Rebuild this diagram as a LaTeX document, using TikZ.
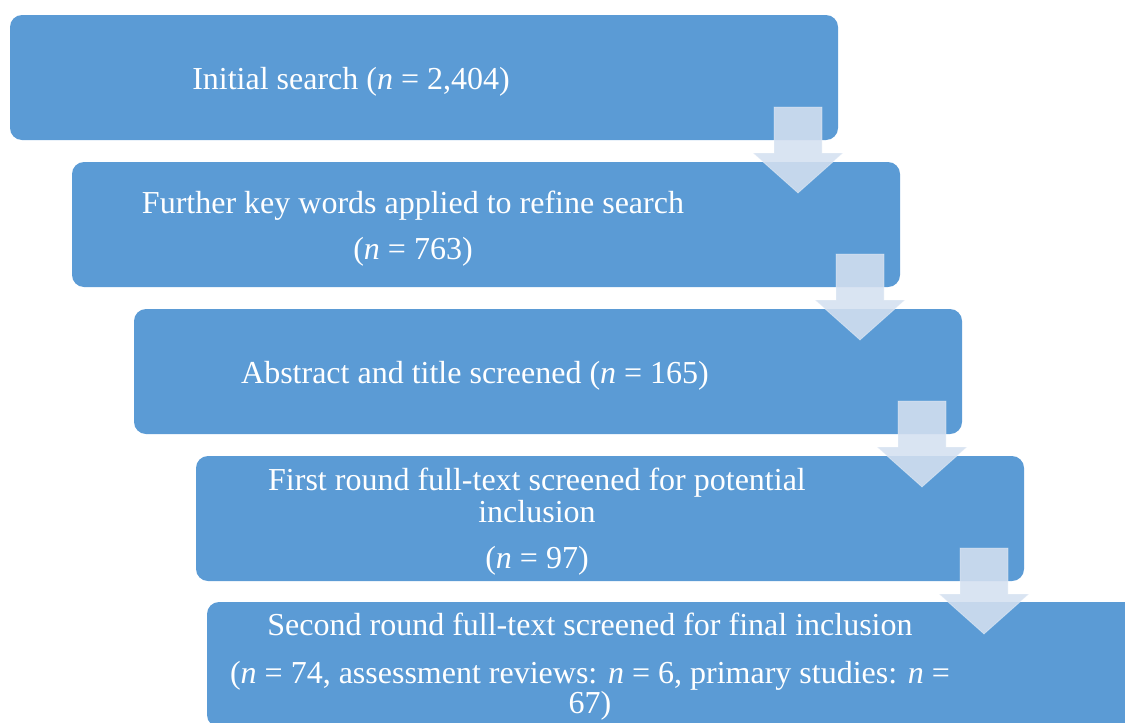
\documentclass[tikz,border=0pt]{standalone}
\usepackage{fontspec}
\setmainfont{Liberation Serif}
\usetikzlibrary{calc}

\definecolor{stepblue}{HTML}{5B9BD5}
\definecolor{arrowtint}{RGB}{212,224,240}

\tikzset{
  stepbox/.style={draw=none, fill=stepblue, rounded corners=12pt,
    minimum width=828pt, minimum height=125pt, anchor=north west,
    inner sep=0pt, outer sep=0pt},
  steptext/.style={text=white, align=center, anchor=north, inner sep=0pt,
    font=\fontsize{32}{32}\selectfont},
  downarrow/.style={fill=arrowtint, fill opacity=0.88,
    draw=white, draw opacity=0.35, line width=0.8pt},
}
% fixes the top of each text block a set distance above its first baseline
\newcommand\firstline{\rule{0pt}{24pt}}

\begin{document}
\begin{tikzpicture}[x=1pt,y=-1pt]
\useasboundingbox (0,0) rectangle (1125,723);
\clip (0,0) rectangle (1125,723);

% the five stepped boxes
\node[stepbox] (b1) at (10,15) {};
\node[stepbox] (b2) at (72,162) {};
\node[stepbox] (b3) at (134,309) {};
\node[stepbox] (b4) at (196,456) {};
\node[stepbox, minimum width=940pt] (b5) at (207,602) {};

% box texts
\node[steptext] (t1) at ($(b1.north west)+(341,50)$)
  {\firstline Initial search (\textit{n} = 2,404)};
\node[steptext] (t2) at ($(b2.north west)+(341,27)$)
  {\firstline Further key words applied to refine search\\[14pt] (\textit{n} = 763)};
\node[steptext] (t3) at ($(b3.north west)+(341,50)$)
  {\firstline Abstract and title screened (\textit{n} = 165)};
\node[steptext] (t4) at ($(b4.north west)+(341,10)$)
  {\firstline First round full-text screened for potential\\ inclusion\\[14pt] (\textit{n} = 97)};
\node[steptext] (t5) at ($(b5.north west)+(383,9)$)
  {\firstline Second round full-text screened for final inclusion\\[16pt]
   (\textit{n} = 74, assessment reviews: \textit{n} = 6, primary studies: \textit{n} =\\[-2pt] 67)};

% translucent block arrows stepping down from each box to the next
\foreach \b in {b1,b2,b3,b4}{
  \draw[downarrow] ($(\b.north east)+(-64,92)$) -- ++(48,0) -- ++(0,46)
    -- ++(21,0) -- ++(-45,40) -- ++(-45,-40) -- ++(21,0) -- cycle;
}
\end{tikzpicture}
\end{document}
